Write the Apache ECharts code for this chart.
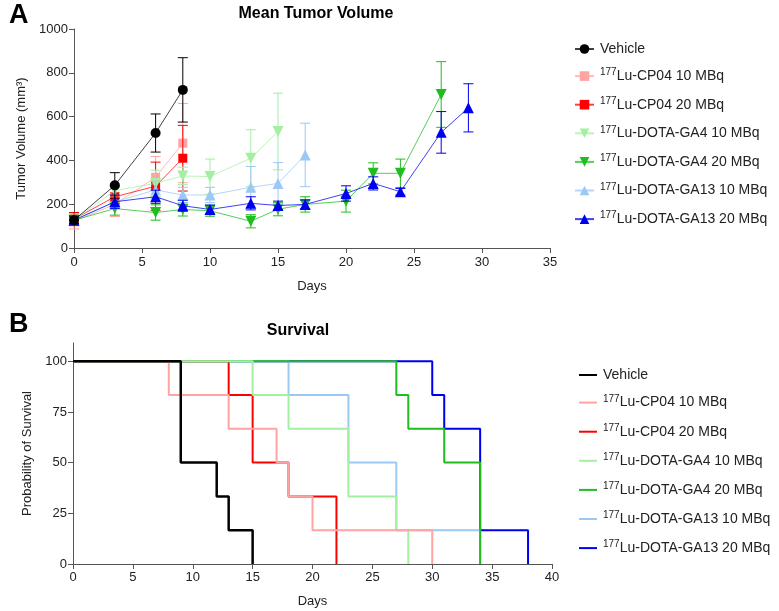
<!DOCTYPE html>
<html>
<head>
<meta charset="utf-8">
<script src="https://cdn.jsdelivr.net/npm/echarts@6/dist/echarts.min.js"></script>
<style>
  html, body { margin: 0; padding: 0; background: #fff; }
  #main { width: 779px; height: 611px; }
</style>
</head>
<body>
<div id="main"></div>
<script>
// 图例名称与颜色
var groupNames = ['Vehicle', 'Lu-CP04 10 MBq', 'Lu-CP04 20 MBq', 'Lu-DOTA-GA4 10 MBq',
  'Lu-DOTA-GA4 20 MBq', 'Lu-DOTA-GA13 10 MBq', 'Lu-DOTA-GA13 20 MBq'];
var groupColors = ['#000000', '#FFA3A3', '#FF0000', '#A3F0A3', '#1EBE1E', '#9CC8F5', '#0000F0'];

// A: 平均肿瘤体积 (天, 均值, 误差)
var vehicleDays = [0, 3, 6, 8];
var vehicleMean = [127, 286, 525, 722];
var vehicleErr = [15, 58, 87, 147];

var cp04_10Days = [0, 3, 6, 8];
var cp04_10Mean = [122, 199, 323, 479];
var cp04_10Err = [35, 55, 95, 181];

var cp04_20Days = [0, 3, 6, 8];
var cp04_20Mean = [132, 234, 282, 410];
var cp04_20Err = [30, 45, 110, 150];

var ga4_10Days = [0, 3, 6, 8, 10, 13, 15];
var ga4_10Mean = [127, 262, 295, 329, 326, 410, 532];
var ga4_10Err = [20, 30, 60, 40, 80, 130, 175];

var ga4_20Days = [0, 3, 6, 8, 10, 13, 15, 17, 20, 22, 24, 27];
var ga4_20Mean = [127, 180, 162, 176, 170, 122, 177, 199, 214, 341, 341, 701];
var ga4_20Err = [20, 30, 35, 30, 25, 30, 30, 35, 50, 48, 65, 150];

var ga13_10Days = [0, 3, 6, 8, 10, 13, 15, 17];
var ga13_10Mean = [127, 211, 265, 242, 242, 277, 295, 425];
var ga13_10Err = [20, 30, 40, 35, 35, 95, 95, 145];

var ga13_20Days = [0, 3, 6, 8, 10, 13, 15, 17, 20, 22, 24, 27, 29];
var ga13_20Mean = [127, 211, 234, 193, 176, 204, 194, 199, 249, 295, 257, 528, 640];
var ga13_20Err = [20, 30, 30, 25, 20, 30, 20, 20, 35, 30, 15, 95, 110];

// B: 生存曲线 (事件时间, 生存率 %)
var vehicleSurvT = [0, 9, 12, 13, 15];
var vehicleSurv = [100, 50, 33.3, 16.7, 0];
var cp04_10SurvT = [0, 8, 13, 17, 18, 20, 30];
var cp04_10Surv = [100, 83.3, 66.7, 50, 33.3, 16.7, 0];
var cp04_20SurvT = [0, 13, 15, 18, 22];
var cp04_20Surv = [100, 83.3, 50, 33.3, 0];
var ga4_10SurvT = [0, 15, 18, 23, 27, 28];
var ga4_10Surv = [100, 83.3, 66.7, 33.3, 16.7, 0];
var ga4_20SurvT = [0, 27, 28, 31, 34];
var ga4_20Surv = [100, 83.3, 66.7, 50, 0];
var ga13_10SurvT = [0, 18, 23, 27, 34];
var ga13_10Surv = [100, 83.3, 50, 16.7, 0];
var ga13_20SurvT = [0, 30, 31, 34, 38];
var ga13_20Surv = [100, 83.3, 66.7, 16.7, 0];

var volumeSets = [
  [vehicleDays, vehicleMean, vehicleErr],
  [cp04_10Days, cp04_10Mean, cp04_10Err],
  [cp04_20Days, cp04_20Mean, cp04_20Err],
  [ga4_10Days, ga4_10Mean, ga4_10Err],
  [ga4_20Days, ga4_20Mean, ga4_20Err],
  [ga13_10Days, ga13_10Mean, ga13_10Err],
  [ga13_20Days, ga13_20Mean, ga13_20Err]
];
var survSets = [
  [vehicleSurvT, vehicleSurv], [cp04_10SurvT, cp04_10Surv], [cp04_20SurvT, cp04_20Surv],
  [ga4_10SurvT, ga4_10Surv], [ga4_20SurvT, ga4_20Surv],
  [ga13_10SurvT, ga13_10Surv], [ga13_20SurvT, ga13_20Surv]
];
var symbols = ['circle', 'rect', 'rect', 'triangle', 'triangle', 'triangle', 'triangle'];
var symbolRotates = [0, 0, 0, 180, 180, 0, 0];
var symbolSizes = [10, 9, 9, 11, 11, 11, 11];
// 叠放顺序
var volumeZ = [20, 10, 11, 12, 13, 14, 15];
var survZ = [20, 19, 16, 18, 17, 15, 14];

var FONT = '"Liberation Sans", Arial, sans-serif';
var axisColor = '#555';

function zip(a, b) {
  return a.map(function (v, i) { return [v, b[i]]; });
}

// 误差棒
function errorBarItem(params, api) {
  var x = api.value(0);
  var lo = api.coord([x, api.value(1)]);
  var hi = api.coord([x, api.value(2)]);
  var w = 5;
  var st = { stroke: api.visual('color'), lineWidth: 1 };
  return {
    type: 'group',
    children: [
      { type: 'line', shape: { x1: hi[0], y1: hi[1], x2: lo[0], y2: lo[1] }, style: st },
      { type: 'line', shape: { x1: hi[0] - w, y1: hi[1], x2: hi[0] + w, y2: hi[1] }, style: st },
      { type: 'line', shape: { x1: lo[0] - w, y1: lo[1], x2: lo[0] + w, y2: lo[1] }, style: st }
    ]
  };
}

function legendFormatter(name) {
  if (name === 'Vehicle') return '{v|' + name + '}';
  return '{s|177}{t|' + name + '}';
}

var legendText = {
  fontFamily: FONT, fontSize: 14, color: '#222',
  rich: {
    v: { fontFamily: FONT, fontSize: 14, color: '#222', lineHeight: 17, padding: [0, 0, 0, 1] },
    s: { fontFamily: FONT, fontSize: 10, color: '#222', verticalAlign: 'top', lineHeight: 17, padding: [0, 0, 7, 1] },
    t: { fontFamily: FONT, fontSize: 14, color: '#222', lineHeight: 17 }
  }
};

var series = [];
volumeSets.forEach(function (set, i) {
  var days = set[0], mean = set[1], err = set[2];
  series.push({
    name: 'err' + i,
    type: 'custom',
    xAxisIndex: 0, yAxisIndex: 0,
    itemStyle: { color: groupColors[i] },
    renderItem: errorBarItem,
    data: days.map(function (d, j) { return [d, mean[j] - err[j], mean[j] + err[j]]; }),
    z: volumeZ[i],
    silent: true
  });
  series.push({
    name: groupNames[i],
    type: 'line',
    xAxisIndex: 0, yAxisIndex: 0,
    data: zip(days, mean),
    symbol: symbols[i],
    symbolRotate: symbolRotates[i],
    symbolSize: symbolSizes[i],
    color: groupColors[i],
    lineStyle: { width: 1, opacity: 0.75 },
    itemStyle: { color: groupColors[i] },
    z: volumeZ[i]
  });
});

survSets.forEach(function (set, i) {
  series.push({
    name: groupNames[i],
    type: 'line',
    xAxisIndex: 1, yAxisIndex: 1,
    step: 'end',
    data: zip(set[0], set[1]),
    symbol: 'none',
    color: groupColors[i],
    lineStyle: { width: i === 0 ? 2.5 : 2 },
    z: survZ[i]
  });
});

var myChart = echarts.init(document.getElementById('main'));

var option = {
  backgroundColor: '#fff',
  animation: false,
  title: [
    { text: 'A', left: 4, top: -3, textStyle: { fontFamily: FONT, fontSize: 27, fontWeight: 'bold', color: '#000' } },
    { text: 'Mean Tumor Volume', left: 311, top: 1, textAlign: 'center',
      textStyle: { fontFamily: FONT, fontSize: 16, fontWeight: 'bold', color: '#000' } },
    { text: 'B', left: 4, top: 306, textStyle: { fontFamily: FONT, fontSize: 27, fontWeight: 'bold', color: '#000' } },
    { text: 'Survival', left: 293, top: 318, textAlign: 'center',
      textStyle: { fontFamily: FONT, fontSize: 16, fontWeight: 'bold', color: '#000' } }
  ],
  legend: [
    {
      data: groupNames.map(function (n) { return { name: n }; }),
      orient: 'vertical', left: 569, top: 37,
      itemWidth: 19, itemHeight: 12, itemGap: 11.6,
      formatter: legendFormatter,
      textStyle: legendText,
      selectedMode: false
    },
    {
      data: groupNames.map(function (n) { return { name: n, icon: 'path://M0,0L18,0L18,2L0,2Z' }; }),
      orient: 'vertical', left: 574, top: 363,
      itemWidth: 18, itemHeight: 12, itemGap: 12.1,
      formatter: legendFormatter,
      textStyle: legendText,
      selectedMode: false
    }
  ],
  grid: [
    { left: 74, width: 476, top: 29, height: 219 },
    { left: 73, width: 479, top: 343, height: 221 }
  ],
  xAxis: [
    {
      gridIndex: 0, type: 'value', min: 0, max: 35, interval: 5,
      name: 'Days', nameLocation: 'middle', nameGap: 32,
      nameTextStyle: { fontFamily: FONT, fontSize: 13, color: '#222' },
      axisLine: { onZero: false, lineStyle: { color: axisColor } },
      axisTick: { length: 5, lineStyle: { color: axisColor } },
      axisLabel: { fontFamily: FONT, fontSize: 13, color: '#222', margin: 8 },
      splitLine: { show: false }
    },
    {
      gridIndex: 1, type: 'value', min: 0, max: 40, interval: 5,
      name: 'Days', nameLocation: 'middle', nameGap: 31,
      nameTextStyle: { fontFamily: FONT, fontSize: 13, color: '#222' },
      axisLine: { onZero: false, lineStyle: { color: axisColor } },
      axisTick: { length: 5, lineStyle: { color: axisColor } },
      axisLabel: { fontFamily: FONT, fontSize: 13, color: '#222', margin: 7 },
      splitLine: { show: false }
    }
  ],
  yAxis: [
    {
      gridIndex: 0, type: 'value', min: 0, max: 1000, interval: 200,
      name: 'Tumor Volume (mm³)', nameLocation: 'middle', nameGap: 45,
      nameTextStyle: { fontFamily: FONT, fontSize: 13, color: '#222' },
      axisLine: { show: true, lineStyle: { color: axisColor } },
      axisTick: { show: true, length: 5, lineStyle: { color: axisColor } },
      axisLabel: { fontFamily: FONT, fontSize: 13, color: '#222', margin: 6,
        formatter: function (v) { return String(v); } },
      splitLine: { show: false }
    },
    {
      gridIndex: 1, type: 'value', min: 0, max: 109,
      name: 'Probability of Survival', nameLocation: 'middle', nameGap: 38,
      nameTextStyle: { fontFamily: FONT, fontSize: 13, color: '#222' },
      axisLine: { show: true, lineStyle: { color: axisColor } },
      axisTick: { show: true, length: 5, lineStyle: { color: axisColor }, customValues: [0, 25, 50, 75, 100] },
      axisLabel: { fontFamily: FONT, fontSize: 13, color: '#222', margin: 6, customValues: [0, 25, 50, 75, 100] },
      splitLine: { show: false }
    }
  ],
  series: series
};

myChart.setOption(option);
</script>
</body>
</html>
